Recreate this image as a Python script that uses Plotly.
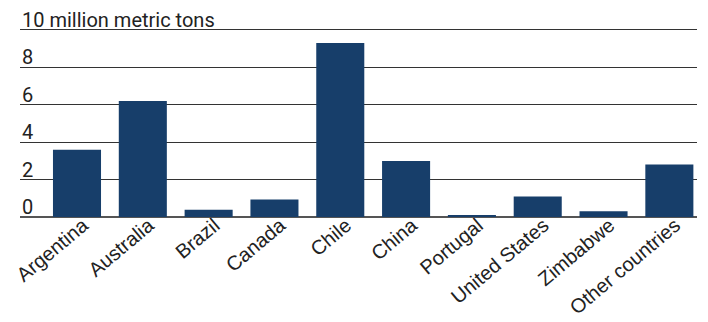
import plotly.graph_objects as go

countries = ["Argentina", "Australia", "Brazil", "Canada", "Chile", "China",
             "Portugal", "United States", "Zimbabwe", "Other countries"]
reserves = [3.6, 6.2, 0.39, 0.93, 9.3, 3.0, 0.06, 1.1, 0.31, 2.8]
y_ticks = [0, 2, 4, 6, 8, 10]
y_tick_text = ["0", "2", "4", "6", "8", "10 million metric tons"]

bar_color = "#173e6a"

fig = go.Figure(go.Bar(x=countries, y=reserves, marker_color=bar_color,
                       marker_line_width=0, hoverinfo="skip"))

fig.update_layout(
    width=708, height=322,
    margin=dict(l=20, r=11, t=0, b=105, autoexpand=False),
    paper_bgcolor="white", plot_bgcolor="white",
    bargap=0.27,
    showlegend=False,
    font=dict(family="Roboto", color="#222222"),
)
fig.update_xaxes(
    range=[-0.866, 9.42],
    tickangle=-40,
    automargin=False,
    ticklabeloverflow="allow",
    ticklabelstandoff=-8,
    ticklabelshift=6,
    tickfont=dict(family="Liberation Sans", size=20, color="#222222"),
    showgrid=False, showline=False, ticks="", zeroline=False,
)
fig.update_yaxes(
    range=[0, 11.6],
    automargin=False,
    ticklabeloverflow="allow",
    tickvals=y_ticks, ticktext=y_tick_text,
    ticklabelposition="inside top",
    ticklabelstandoff=-1,
    ticklabelshift=4,
    tickfont=dict(family="Roboto", size=20, color="#222222"),
    showgrid=True, gridcolor="#333333", gridwidth=1,
    zeroline=True, zerolinecolor="#555555", zerolinewidth=1.5,
    showline=False, ticks="",
)
fig.write_html("out.html",
               config={"displayModeBar": False},
               post_script="document.body.style.margin='0';")
